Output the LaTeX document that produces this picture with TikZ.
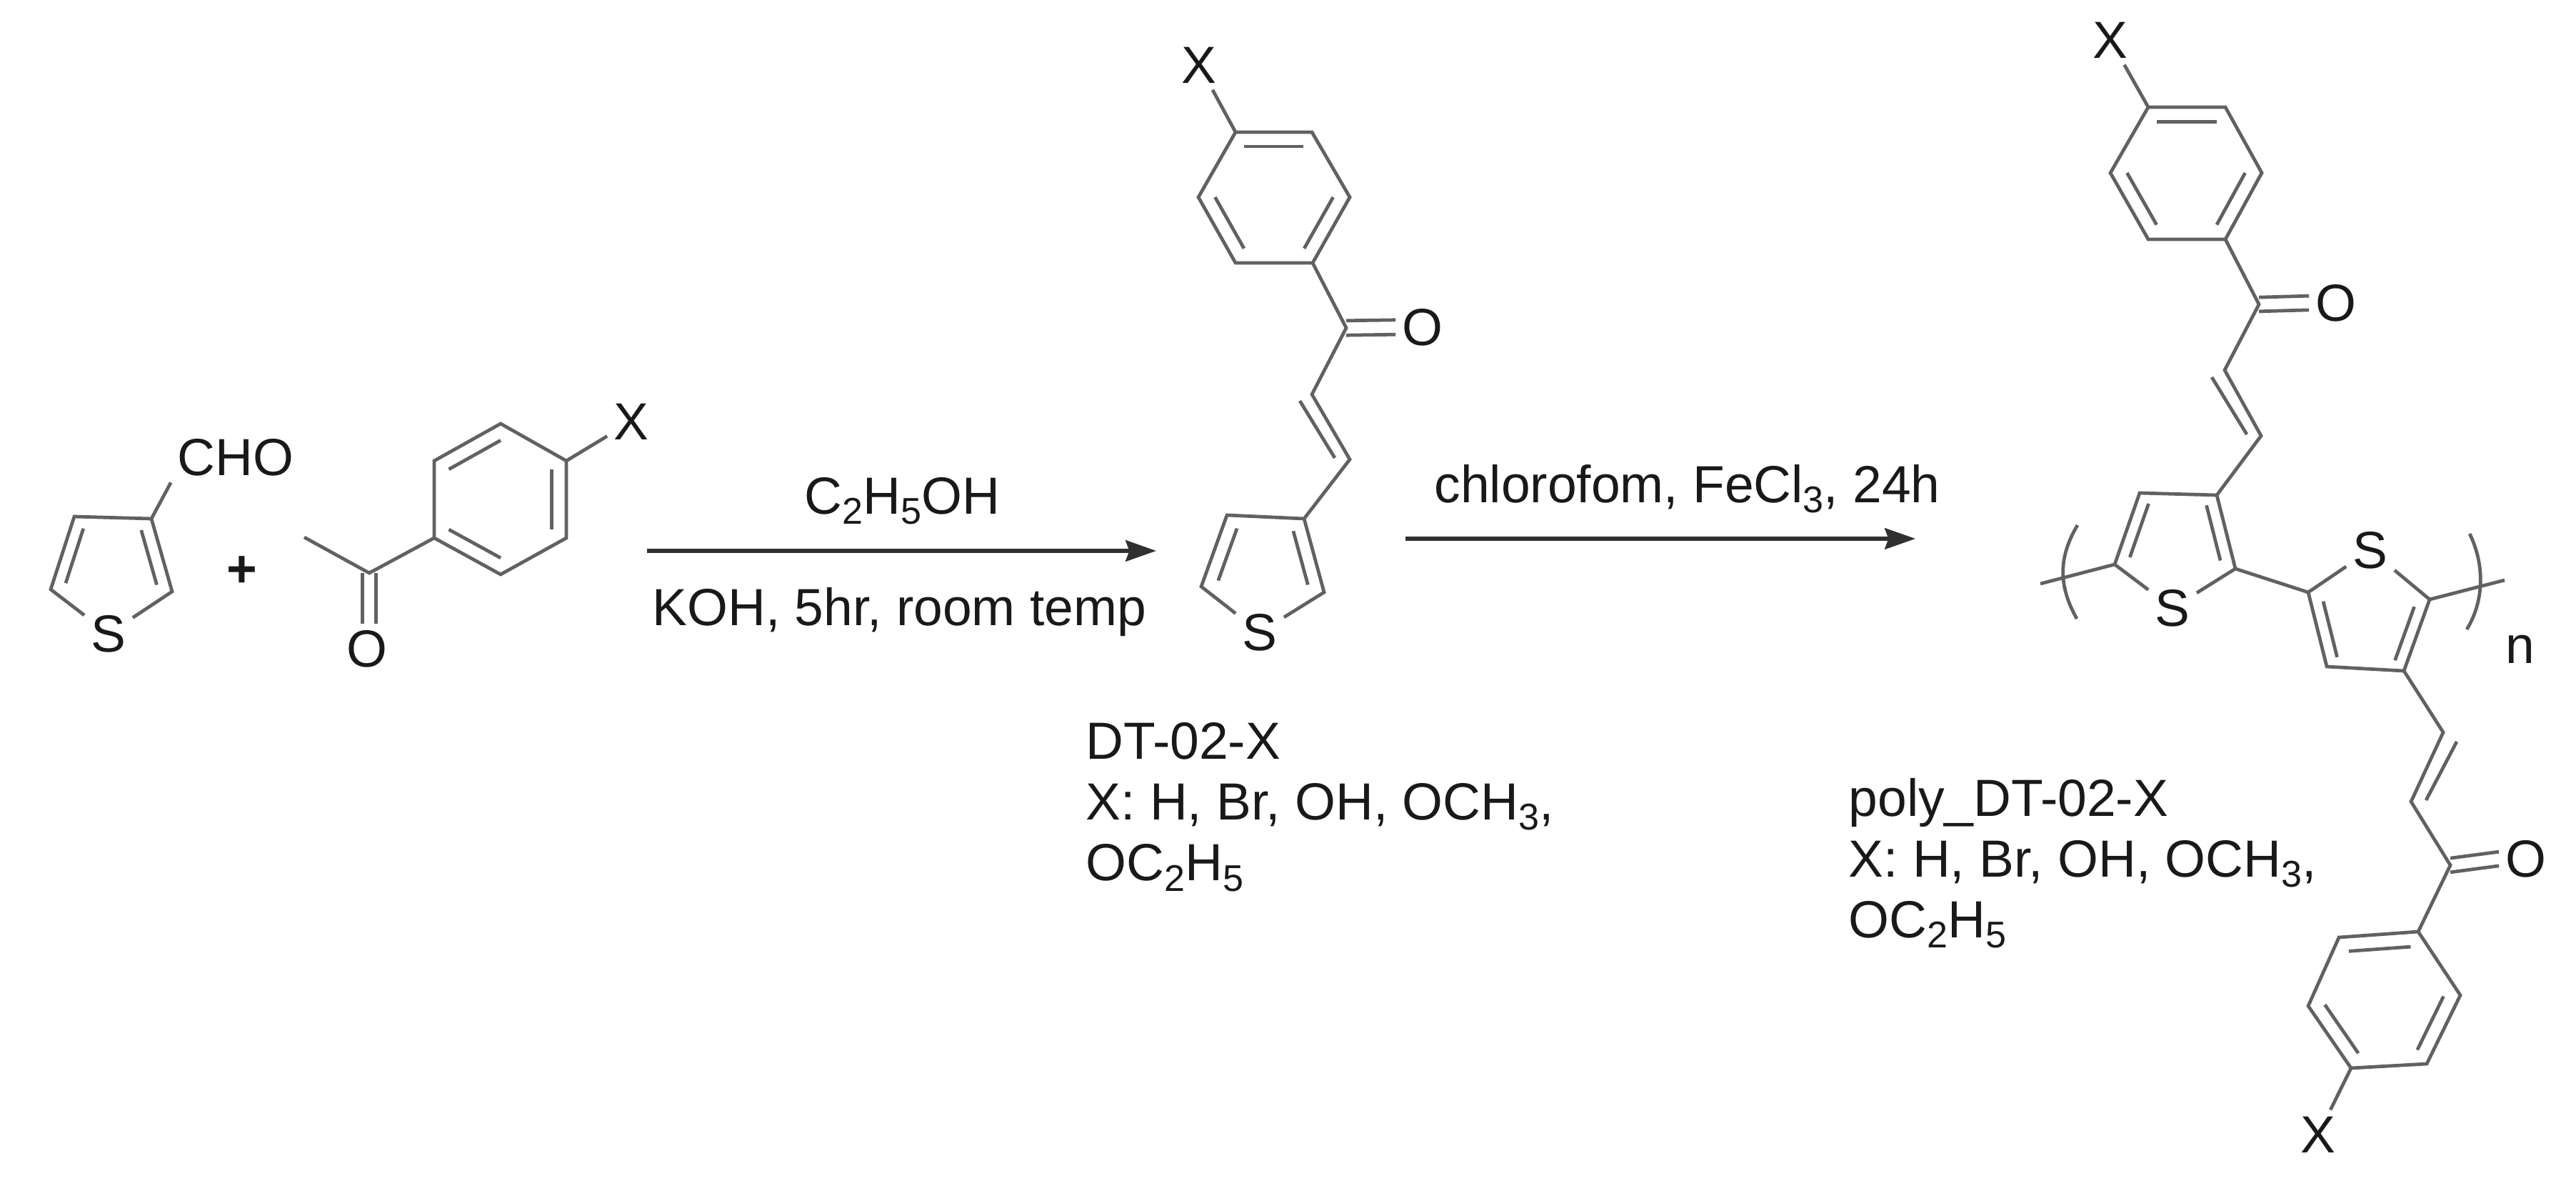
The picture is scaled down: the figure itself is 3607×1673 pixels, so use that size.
\documentclass[tikz,border=0pt]{standalone}
\usepackage{fontspec}
\setmainfont{Liberation Sans}
\usetikzlibrary{calc,arrows.meta}

\newcommand{\chemsub}[1]{\raisebox{-4pt}{\fontsize{14.8}{16}\selectfont #1}}
\newcommand{\innerbond}[4]{\draw[bond] ($(#1)!#4!(#3)$) -- ($(#2)!#4!(#3)$);}

\definecolor{bondgray}{gray}{0.38}
\definecolor{inkgray}{gray}{0.1}

\tikzset{
	bond/.style={draw=bondgray,line width=1.35pt,line join=miter},
	rxnarrow/.style={draw=inkgray!90,line width=1.5pt,-{Stealth[length=12.2pt,width=8.4pt,inset=1.5pt]}},
	atom/.style={text=inkgray,inner sep=2.5pt,font=\fontsize{20.8}{24.2}\selectfont},
	reagent/.style={text=inkgray,inner sep=0pt,anchor=base west,font=\fontsize{20.8}{24.2}\selectfont},
	caption/.style={text=inkgray,inner sep=0pt,anchor=north west,align=left,font=\fontsize{20.8}{24.2}\selectfont},
}

\begin{document}
\begin{tikzpicture}[x=0.01cm,y=-0.01cm]
	\useasboundingbox (0,0) rectangle (3607,1673);

	\coordinate (ta1) at (212,726);
	\coordinate (ta2) at (104,723);
	\coordinate (ta3) at (71,825);
	\coordinate (ta4) at (241,828);
	\coordinate (tacen) at (155,790);
	\node[atom] (sa) at (152,887) {S};
	\node[atom] (cho) at (330,640) {CHO};
	\draw[bond] (sa) -- (ta3) -- (ta2) -- (ta1) -- (ta4) -- (sa);
	\draw[bond] (ta1) -- (cho.south west);
	\innerbond{ta2}{ta3}{tacen}{0.25}
	\innerbond{ta1}{ta4}{tacen}{0.25}

	\node[atom,font=\fontsize{20.8}{24.2}\selectfont\bfseries] (plus) at (339,800) {+};

	\coordinate (ba1) at (701,593);
	\coordinate (ba2) at (793,645);
	\coordinate (ba3) at (793,753);
	\coordinate (ba4) at (701,804);
	\coordinate (ba5) at (608,753);
	\coordinate (ba6) at (608,645);
	\coordinate (bacen) at (701,699);
	\coordinate (ca) at (517,802);
	\coordinate (me) at (426,752);
	\node[atom] (oa) at (514,908) {O};
	\node[atom] (xa) at (884,590) {X};
	\draw[bond] (ba1) -- (ba2) -- (ba3) -- (ba4) -- (ba5) -- (ba6) -- cycle;
	\draw[bond] (ba2) -- (xa);
	\draw[bond] (ba5) -- (ca) -- (me);
	\draw[bond] ([xshift=-2.6pt]ca) -- ([xshift=-2.6pt]ca |- oa.north);
	\draw[bond] ([xshift=2.6pt]ca) -- ([xshift=2.6pt]ca |- oa.north);
	\innerbond{ba6}{ba1}{bacen}{0.22}
	\innerbond{ba2}{ba3}{bacen}{0.22}
	\innerbond{ba4}{ba5}{bacen}{0.22}

	\coordinate (arra) at (906,771);
	\coordinate (arrb) at (1619,771);
	\draw[rxnarrow] (arra) -- (arrb);
	\node[reagent] (etoh) at (1126,719) {C\chemsub{2}H\chemsub{5}OH};
	\node[reagent] (koh) at (913,875) {KOH, 5hr, room temp};

	\coordinate (bb1) at (1730,185);
	\coordinate (bb2) at (1837,185);
	\coordinate (bb3) at (1890,276);
	\coordinate (bb4) at (1838,368);
	\coordinate (bb5) at (1730,368);
	\coordinate (bb6) at (1678,276);
	\coordinate (bbcen) at (1784,276);
	\coordinate (cb) at (1885,459);
	\coordinate (vb1) at (1837,552);
	\coordinate (vb2) at (1890,643);
	\coordinate (vb3) at (1820,561);
	\coordinate (vb4) at (1869,641);
	\coordinate (tb1) at (1826,726);
	\coordinate (tb2) at (1718,721);
	\coordinate (tb3) at (1682,821);
	\coordinate (tb4) at (1854,829);
	\coordinate (tbcen) at (1770,790);
	\node[atom] (xb) at (1679,91) {X};
	\node[atom] (ob) at (1992,458) {O};
	\node[atom] (sb) at (1764,885) {S};
	\draw[bond] (bb1) -- (bb2) -- (bb3) -- (bb4) -- (bb5) -- (bb6) -- cycle;
	\draw[bond] (bb1) -- (xb);
	\draw[bond] (bb4) -- (cb) -- (vb1) -- (vb2) -- (tb1);
	\draw[bond] (vb3) -- (vb4);
	\draw[bond] ([yshift=2.9pt]cb) -- ([yshift=2.9pt]ob.west);
	\draw[bond] ([yshift=-2.9pt]cb) -- ([yshift=-2.9pt]ob.west);
	\draw[bond] (sb) -- (tb3) -- (tb2) -- (tb1) -- (tb4) -- (sb);
	\innerbond{bb1}{bb2}{bbcen}{0.22}
	\innerbond{bb3}{bb4}{bbcen}{0.22}
	\innerbond{bb5}{bb6}{bbcen}{0.22}
	\innerbond{tb2}{tb3}{tbcen}{0.27}
	\innerbond{tb1}{tb4}{tbcen}{0.27}

	\node[caption] (dtlabel) at (1520,1011) {DT-02-X\\X: H, Br, OH, OCH\chemsub{3},\\OC\chemsub{2}H\chemsub{5}};

	\coordinate (arrc) at (1968,754);
	\coordinate (arrd) at (2682,754);
	\draw[rxnarrow] (arrc) -- (arrd);
	\node[reagent] (fecl) at (2008,703) {chlorofom, FeCl\chemsub{3}, 24h};

	\coordinate (bc1) at (3008,150);
	\coordinate (bc2) at (3116,150);
	\coordinate (bc3) at (3167,242);
	\coordinate (bc4) at (3116,335);
	\coordinate (bc5) at (3008,335);
	\coordinate (bc6) at (2955,242);
	\coordinate (bccen) at (3061,242);
	\coordinate (cc) at (3163,426);
	\coordinate (vc1) at (3115,518);
	\coordinate (vc2) at (3166,610);
	\coordinate (vc3) at (3097,528);
	\coordinate (vc4) at (3146,608);
	\coordinate (tc1) at (3104,693);
	\coordinate (tc2) at (2996,690);
	\coordinate (tc3) at (2961,790);
	\coordinate (tc4) at (3130,796);
	\coordinate (tccen) at (3046,750);
	\node[atom] (xc) at (2955,56) {X};
	\node[atom] (oc) at (3271,424) {O};
	\node[atom] (sc) at (3042,851) {S};
	\draw[bond] (bc1) -- (bc2) -- (bc3) -- (bc4) -- (bc5) -- (bc6) -- cycle;
	\draw[bond] (bc1) -- (xc);
	\draw[bond] (bc4) -- (cc) -- (vc1) -- (vc2) -- (tc1);
	\draw[bond] (vc3) -- (vc4);
	\draw[bond] ([yshift=2.8pt]cc) -- ([yshift=2.8pt]oc.west);
	\draw[bond] ([yshift=-2.8pt]cc) -- ([yshift=-2.8pt]oc.west);
	\draw[bond] (sc) -- (tc3) -- (tc2) -- (tc1) -- (tc4) -- (sc);
	\innerbond{bc1}{bc2}{bccen}{0.22}
	\innerbond{bc3}{bc4}{bccen}{0.22}
	\innerbond{bc5}{bc6}{bccen}{0.22}
	\innerbond{tc2}{tc3}{tccen}{0.25}
	\innerbond{tc1}{tc4}{tccen}{0.25}

	\coordinate (td1) at (3232,829);
	\coordinate (td2) at (3258,933);
	\coordinate (td3) at (3366,939);
	\coordinate (td4) at (3402,839);
	\coordinate (tdcen) at (3316,880);
	\node[atom] (sd) at (3319,770) {S};
	\draw[bond] (sd) -- (td1) -- (td2) -- (td3) -- (td4) -- (sd);
	\draw[bond] (tc4) -- (td1);
	\innerbond{td1}{td2}{tdcen}{0.25}
	\innerbond{td3}{td4}{tdcen}{0.25}

	\coordinate (stubl) at (2857,817);
	\coordinate (stubr) at (3507,812);
	\coordinate (brla) at (2909,735);
	\coordinate (brlb) at (2908,866);
	\coordinate (brra) at (3458,747);
	\coordinate (brrb) at (3454,881);
	\draw[bond] (tc3) -- (stubl);
	\draw[bond] (td4) -- (stubr);
	\draw[bond] (brla) .. controls (2882,780) and (2882,820) .. (brlb);
	\draw[bond] (brra) .. controls (3479,790) and (3479,840) .. (brrb);
	\node[atom] (npoly) at (3529,909) {n};

	\coordinate (ve1) at (3421,1025);
	\coordinate (ve2) at (3376,1122);
	\coordinate (ve3) at (3440,1038);
	\coordinate (ve4) at (3397,1120);
	\coordinate (ce) at (3431,1211);
	\coordinate (be1) at (3386,1304);
	\coordinate (be2) at (3275,1312);
	\coordinate (be3) at (3232,1408);
	\coordinate (be4) at (3292,1495);
	\coordinate (be5) at (3398,1489);
	\coordinate (be6) at (3445,1393);
	\coordinate (becen) at (3338,1400);
	\node[atom] (oe) at (3537,1202) {O};
	\node[atom] (xe) at (3246,1588) {X};
	\draw[bond] (td3) -- (ve1) -- (ve2) -- (ce) -- (be1);
	\draw[bond] (ve3) -- (ve4);
	\draw[bond] ([yshift=2.8pt]ce) -- ([yshift=2.8pt]oe.west);
	\draw[bond] ([yshift=-2.8pt]ce) -- ([yshift=-2.8pt]oe.west);
	\draw[bond] (be1) -- (be2) -- (be3) -- (be4) -- (be5) -- (be6) -- cycle;
	\draw[bond] (be4) -- (xe);
	\innerbond{be1}{be2}{becen}{0.22}
	\innerbond{be3}{be4}{becen}{0.22}
	\innerbond{be5}{be6}{becen}{0.22}

	\node[caption] (polylabel) at (2588,1089) {poly\_DT-02-X\\X: H, Br, OH, OCH\chemsub{3},\\OC\chemsub{2}H\chemsub{5}};
\end{tikzpicture}
\end{document}
